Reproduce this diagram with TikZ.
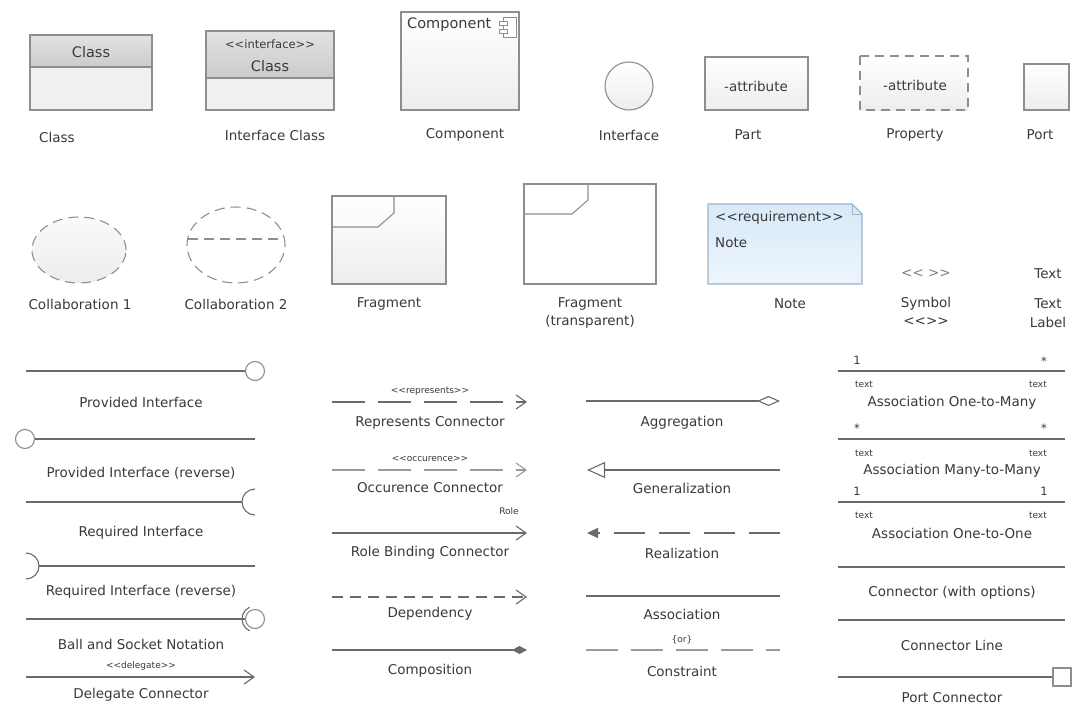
\documentclass[tikz,border=0pt]{standalone}
\usepackage{fontspec}
\setmainfont{DejaVu Sans}
\usetikzlibrary{arrows.meta}
\definecolor{txt}{HTML}{3A3A3A}
\definecolor{edge}{HTML}{8E8E8E}
\definecolor{wire}{HTML}{6A6A6A}
\definecolor{pale}{HTML}{9A9A9A}
\definecolor{hdtop}{HTML}{E2E2E2}
\definecolor{hdbot}{HTML}{CBCBCB}
\definecolor{bodyg}{HTML}{F1F1F1}
\definecolor{notetop}{HTML}{D8E9F8}
\definecolor{notebot}{HTML}{EDF5FC}
\definecolor{notebd}{HTML}{9DB4C9}
\tikzset{
  lbl/.style={text=txt, inner sep=0pt, font=\fontsize{13.5}{16}\selectfont},
  big/.style={text=txt, inner sep=0pt, font=\fontsize{14.5}{17}\selectfont},
  mid/.style={text=txt, inner sep=0pt, font=\fontsize{11.5}{13}\selectfont},
  tiny/.style={text=txt, inner sep=0pt, font=\fontsize{9}{10}\selectfont},
  shp/.style={draw=edge, line width=1.1pt},
  conn/.style={draw=wire, line width=1.1pt},
  ball/.style={circle, shp, fill=white, minimum size=19pt, inner sep=0pt},
  openhead/.style={-{Straight Barb[length=10pt,width=14pt]}},
  lite/.style={top color=white, bottom color=gray!14}
}
\begin{document}
\begin{tikzpicture}[x=1pt,y=-1pt]
\useasboundingbox[fill=white] (0,0) rectangle (1073,709);

\shade[top color=hdtop, bottom color=hdbot] (30,35) rectangle (152,67);
\fill[bodyg] (30,67) rectangle (152,110);
\draw[shp] (30,35) rectangle (152,110) (30,67) -- (152,67);
\node[big] (clsname) at (91,52) {Class};
\node[lbl] (clslbl) at (57,137) {Class};

\shade[top color=hdtop, bottom color=hdbot] (206,31) rectangle (334,78);
\fill[bodyg] (206,78) rectangle (334,110);
\draw[shp] (206,31) rectangle (334,110) (206,78) -- (334,78);
\node[mid] (ifcster) at (270,44) {<{}<interface>{}>};
\node[big] (ifcname) at (270,66) {Class};
\node[lbl] (ifclbl) at (275,135) {Interface Class};

\draw[shp, lite] (401,12) rectangle (519,110);
\node[big, anchor=west] (cmpname) at (407,25) {Component};
\draw[shp, line width=0.8pt, fill=white] (503,17) rectangle (516,37);
\draw[shp, line width=0.8pt, fill=white] (499,21) rectangle (507,25) (499,29) rectangle (507,33);
\node[lbl] (cmplbl) at (465,135) {Component};

\draw[shp, lite] (629,86) circle (24pt);
\node[lbl] (itflbl) at (629,135) {Interface};

\draw[shp, lite] (705,57) rectangle (808,110);
\node[lbl] (partattr) at (756,86) {-attribute};
\node[lbl] (partlbl) at (748,135) {Part};

\draw[shp, lite, dash pattern=on 9pt off 6pt] (860,56) rectangle (968,110);
\node[lbl] (propattr) at (915,85) {-attribute};
\node[lbl] (proplbl) at (915,135) {Property};

\draw[shp, lite] (1024,64) rectangle (1069,110);
\node[lbl] (portlbl) at (1040,135) {Port};

\draw[shp, top color=gray!4, bottom color=gray!15, dash pattern=on 10pt off 6pt] (79,250) ellipse [x radius=47pt, y radius=33pt];
\node[lbl] (col1lbl) at (80,304) {Collaboration 1};

\draw[shp, dash pattern=on 10pt off 6pt] (236,245) ellipse [x radius=49pt, y radius=38pt];
\draw[shp, dash pattern=on 10pt off 6pt] (188,239) -- (284,239);
\node[lbl] (col2lbl) at (236,304) {Collaboration 2};

\draw[shp, lite] (332,196) rectangle (446,284);
\draw[shp] (394,196) -- (394,213) -- (378,227) -- (332,227);
\node[lbl] (fraglbl) at (389,304) {Fragment};

\draw[shp] (524,184) rectangle (656,284);
\draw[shp] (588,184) -- (588,200) -- (572,214) -- (524,214);
\node[lbl] (frtlbl) at (590,304) {Fragment};
\node[lbl] (frtlbl2) at (590,322) {(transparent)};

\draw[draw=notebd, line width=1.1pt, top color=notetop, bottom color=notebot] (708,204) -- (852,204) -- (862,214) -- (862,284) -- (708,284) -- cycle;
\draw[draw=notebd, line width=0.9pt] (852,204) -- (852,214) -- (862,214);
\node[lbl, anchor=west] (notester) at (715,218) {<{}<requirement>{}>};
\node[lbl, anchor=west] (notename) at (715,243) {Note};
\node[lbl] (notelbl) at (790,304) {Note};

\node[lbl, text=gray] (symb) at (926,274) {<{}< >{}>};
\node[lbl] (symblbl) at (926,304) {Symbol};
\node[lbl] (symblbl2) at (926,322) {<{}<>{}>};

\node[lbl] (textsmp) at (1048,274) {Text};
\node[lbl] (textlbl) at (1048,304) {Text};
\node[lbl] (textlbl2) at (1048,322) {Label};

\coordinate (pistart) at (26,371);
\node[ball] (piball) at (255,371) {};
\draw[conn] (pistart) -- (piball);
\node[lbl] (pilbl) at (141,402) {Provided Interface};

\node[ball] (pirball) at (25,439) {};
\coordinate (pirend) at (255,439);
\draw[conn] (pirball) -- (pirend);
\node[lbl] (pirlbl) at (141,473) {Provided Interface (reverse)};

\coordinate (ristart) at (26,502);
\coordinate (riend) at (242,502);
\coordinate (ricup) at (255,489);
\draw[conn] (ristart) -- (riend);
\draw[conn] (ricup) arc[start angle=90, end angle=270, radius=13pt];
\node[lbl] (rilbl) at (141,533) {Required Interface};

\coordinate (rircup) at (26,553);
\coordinate (rirstart) at (39,566);
\coordinate (rirend) at (255,566);
\draw[conn] (rircup) arc[start angle=90, end angle=-90, radius=13pt];
\draw[conn] (rirstart) -- (rirend);
\node[lbl] (rirlbl) at (141,592) {Required Interface (reverse)};

\coordinate (bsstart) at (26,619);
\node[ball] (bsball) at (255,619) {};
\draw[conn] (bsstart) -- (bsball);
\draw[conn] (bsball.center) ++(115:13pt) arc[start angle=115, end angle=245, radius=13pt];
\node[lbl] (bslbl) at (141,644) {Ball and Socket Notation};

\coordinate (dlgstart) at (26,677);
\coordinate (dlgend) at (255,677);
\draw[conn, openhead] (dlgstart) -- (dlgend);
\node[tiny] (dlgster) at (141,666) {<{}<delegate>{}>};
\node[lbl] (dlglbl) at (141,695) {Delegate Connector};

\coordinate (repstart) at (332,402);
\coordinate (repend) at (527,402);
\draw[conn, openhead, dash pattern=on 33pt off 13pt] (repstart) -- (repend);
\node[tiny] (repster) at (430,391) {<{}<represents>{}>};
\node[lbl] (replbl) at (430,423) {Represents Connector};

\coordinate (occstart) at (332,470);
\coordinate (occend) at (527,470);
\draw[conn, draw=pale, openhead, dash pattern=on 33pt off 13pt] (occstart) -- (occend);
\node[tiny] (occster) at (430,459) {<{}<occurence>{}>};
\node[lbl] (occlbl) at (430,488) {Occurence Connector};

\coordinate (rolestart) at (332,533);
\coordinate (roleend) at (527,533);
\draw[conn, openhead] (rolestart) -- (roleend);
\node[tiny] (rolename) at (509,511) {Role};
\node[lbl] (rolelbl) at (430,553) {Role Binding Connector};

\coordinate (depstart) at (332,597);
\coordinate (depend) at (527,597);
\draw[conn, openhead, dash pattern=on 11pt off 7pt] (depstart) -- (depend);
\node[lbl] (deplbl) at (430,614) {Dependency};

\coordinate (compstart) at (332,650);
\coordinate (compend) at (527,650);
\draw[conn, -{Diamond[length=15pt,width=8pt]}] (compstart) -- (compend);
\node[lbl] (complbl) at (430,671) {Composition};

\coordinate (aggstart) at (586,401);
\coordinate (aggend) at (780,401);
\draw[conn, -{Diamond[open,length=23pt,width=10pt]}] (aggstart) -- (aggend);
\node[lbl] (agglbl) at (682,423) {Aggregation};

\coordinate (genstart) at (780,470);
\coordinate (genend) at (587,470);
\draw[conn, -{Triangle[open,length=18pt,width=16pt]}] (genstart) -- (genend);
\node[lbl] (genlbl) at (682,488) {Generalization};

\coordinate (realstart) at (780,533);
\coordinate (realend) at (587,533);
\draw[conn, -{Triangle[length=11pt,width=10pt]}, dash pattern=on 31pt off 14pt] (realstart) -- (realend);
\node[lbl] (reallbl) at (682,553) {Realization};

\coordinate (assstart) at (586,596);
\coordinate (assend) at (780,596);
\draw[conn] (assstart) -- (assend);
\node[lbl] (asslbl) at (682,614) {Association};

\coordinate (cnsstart) at (586,650);
\coordinate (cnsend) at (780,650);
\draw[conn, draw=pale, dash pattern=on 32pt off 13pt] (cnsstart) -- (cnsend);
\node[tiny] (cnsor) at (682,640) {\{or\}};
\node[lbl] (cnslbl) at (682,671) {Constraint};

\coordinate (a1nstart) at (838,371);
\coordinate (a1nend) at (1065,371);
\draw[conn] (a1nstart) -- (a1nend);
\node[mid] (a1nl) at (857,360) {1};
\node[mid] (a1nr) at (1044,361) {*};
\node[tiny, anchor=west] (a1ntl) at (855,384) {text};
\node[tiny, anchor=east] (a1ntr) at (1047,384) {text};
\node[lbl] (a1nlbl) at (952,403) {Association One-to-Many};

\coordinate (annstart) at (838,439);
\coordinate (annend) at (1065,439);
\draw[conn] (annstart) -- (annend);
\node[mid] (annl) at (857,428) {*};
\node[mid] (annr) at (1044,428) {*};
\node[tiny, anchor=west] (anntl) at (855,453) {text};
\node[tiny, anchor=east] (anntr) at (1047,453) {text};
\node[lbl] (annlbl) at (952,471) {Association Many-to-Many};

\coordinate (a11start) at (838,502);
\coordinate (a11end) at (1065,502);
\draw[conn] (a11start) -- (a11end);
\node[mid] (a11l) at (857,491) {1};
\node[mid] (a11r) at (1044,491) {1};
\node[tiny, anchor=west] (a11tl) at (855,515) {text};
\node[tiny, anchor=east] (a11tr) at (1047,515) {text};
\node[lbl] (a11lbl) at (952,533) {Association One-to-One};

\coordinate (cwostart) at (838,567);
\coordinate (cwoend) at (1065,567);
\draw[conn] (cwostart) -- (cwoend);
\node[lbl] (cwolbl) at (952,593) {Connector (with options)};

\coordinate (clstart) at (838,620);
\coordinate (clend) at (1065,620);
\draw[conn] (clstart) -- (clend);
\node[lbl] (cllbl) at (952,645) {Connector Line};

\coordinate (pcstart) at (838,677);
\node[shp, fill=white, minimum size=18pt, inner sep=0pt] (pcport) at (1062,677) {};
\draw[conn] (pcstart) -- (pcport);
\node[lbl] (pclbl) at (952,698) {Port Connector};
\end{tikzpicture}
\end{document}
